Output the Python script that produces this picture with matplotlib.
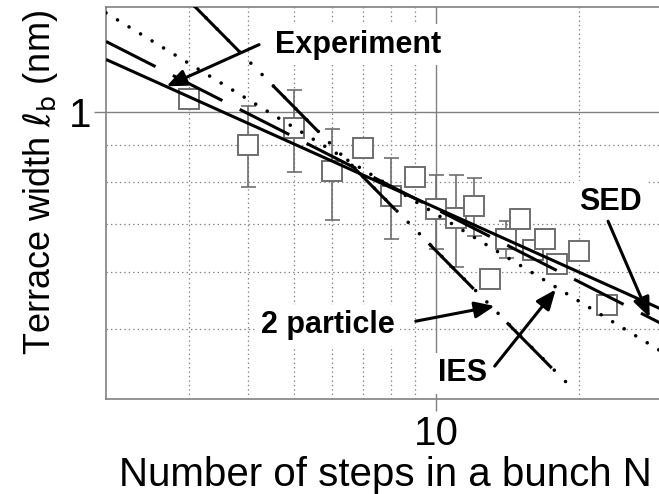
import numpy as np
import matplotlib
matplotlib.use('Agg')
from matplotlib import pyplot as plt

plt.rcParams['font.family'] = ['Liberation Sans', 'DejaVu Sans']
plt.rcParams['mathtext.fontset'] = 'dejavusans'
plt.rcParams['lines.scale_dashes'] = False

# measured points (number of steps N, terrace width in nm)
N = [3, 4, 5, 6, 7, 8, 9, 10, 11, 12, 13, 14, 15, 16, 17, 18, 20, 23]
lb = [1.045, 0.902, 0.951, 0.828, 0.891, 0.765, 0.814, 0.734, 0.714, 0.741,
      0.587, 0.666, 0.711, 0.643, 0.666, 0.616, 0.642, 0.541]

# error bars, only some points have them
err_N = [4, 5, 6, 8, 10, 11, 12, 14]
err_hi = [1.019, 1.073, 0.949, 0.863, 0.819, 0.819, 0.810, 0.706]
err_lo = [0.788, 0.827, 0.708, 0.668, 0.646, 0.609, 0.673, 0.627]

# model / fit lines (end points)
expt_N = [2, 30]
expt_l = [1.184, 0.5325]
sed_N = [2, 30]
sed_l = [1.254, 0.5085]
ies_N = [2, 30]
ies_l = [1.374, 0.4651]
twop_dash_N = [3.08, 18.0]
twop_dash_l = [1.403, 0.434]
twop_dot_N = [3.08, 19.8]
twop_dot_l = [1.403, 0.408]

grey = '#808080'
mgrey = '#6e6e6e'

fig = plt.figure(figsize=(6.59, 4.94), dpi=100)
ax = fig.add_axes([106/659, 95/494, 556/659, 392/494])
ax.set_xscale('log')
ax.set_yscale('log')
ax.set_xlim(2, 30)
ax.set_ylim(0.4, 1.4)

# data
pos = [N.index(n) for n in err_N]
mid = np.array(lb)[pos]
yerr = [mid - np.array(err_lo), np.array(err_hi) - mid]
ax.errorbar(err_N, mid, yerr=yerr, fmt='none', ecolor=mgrey, elinewidth=1.2,
            capsize=5.4, capthick=1.2, zorder=2)
ax.plot(N, lb, ls='none', marker='s', ms=15, mfc='white', mec=mgrey, mew=1.4, zorder=3)

ax.plot(expt_N, expt_l, color='k', lw=2.2, solid_capstyle='butt', zorder=4)
ax.plot(sed_N, sed_l, color='k', lw=2.2, ls=(0, (40, 14)), zorder=4)
ax.plot(ies_N, ies_l, color='k', lw=2.6, ls=(0, (0.01, 9.7)),
        dash_capstyle='round', zorder=4)
ax.plot(twop_dash_N, twop_dash_l, color='k', lw=2.2, ls=(0, (46, 34)), zorder=4)
ax.plot(twop_dot_N, twop_dot_l, color='k', lw=2.6, ls=(0, (0.01, 11.5)),
        dash_capstyle='round', zorder=4)

# axes look
ax.set_xticks([10])
ax.set_xticklabels(['10'])
ax.set_xticks([3, 4, 5, 6, 7, 8, 9, 20], minor=True)
ax.set_xticklabels([], minor=True)
ax.set_yticks([1])
ax.set_yticklabels(['1'])
ax.set_yticks([0.5, 0.6, 0.7, 0.8, 0.9], minor=True)
ax.set_yticklabels([], minor=True)
ax.tick_params(which='major', direction='out', length=8.6, width=1, color=grey,
               labelsize=29)
ax.tick_params(axis='x', which='major', pad=3)
ax.tick_params(axis='y', which='major', pad=2)
ax.tick_params(which='minor', length=0)
ax.grid(which='major', color=grey, lw=1.0, ls='-')
ax.grid(which='minor', color=grey, lw=0.9, ls=(0, (1, 2.2)))
ax.set_axisbelow(True)
for s in ax.spines.values():
    s.set_color(grey)
    s.set_linewidth(1.2)

# labels
box = dict(facecolor='white', edgecolor='none', pad=4)
ax.text(6.83, 1.209, 'Experiment', fontsize=22, fontweight='bold',
        ha='center', va='baseline', bbox=box, zorder=5)
ax.text(5.9, 0.4932, '2 particle', fontsize=22, fontweight='bold',
        ha='center', va='baseline', bbox=box, zorder=5)
ax.text(11.34, 0.4235, 'IES', fontsize=22, fontweight='bold',
        ha='center', va='baseline', bbox=box, zorder=5)
ax.text(23.35, 0.7329, 'SED', fontsize=22, fontweight='bold',
        ha='center', va='baseline', bbox=box, zorder=5)

arrow = dict(arrowstyle='-|>,head_length=12,head_width=5', mutation_scale=1,
             color='k', lw=2.2, shrinkA=0, shrinkB=0)
ax.annotate('', xy=(2.685, 1.0866), xytext=(4.215, 1.2413), arrowprops=arrow, zorder=6)
ax.annotate('', xy=(13.28, 0.5384), xytext=(9.04, 0.5129), arrowprops=arrow, zorder=6)
ax.annotate('', xy=(17.88, 0.5676), xytext=(13.28, 0.4443), arrowprops=arrow, zorder=6)
ax.annotate('', xy=(28.25, 0.519), xytext=(23.07, 0.706), arrowprops=arrow, zorder=6)

fig.text(41/659, 1 - 183/494, r'Terrace width $\ell_{\mathrm{b}}$ (nm)', fontsize=26,
         rotation=90, ha='center', va='center')
fig.text(385/659, 8/494, 'Number of steps in a bunch N', fontsize=29,
         ha='center', va='baseline')

fig.savefig('out.png', dpi=100)
